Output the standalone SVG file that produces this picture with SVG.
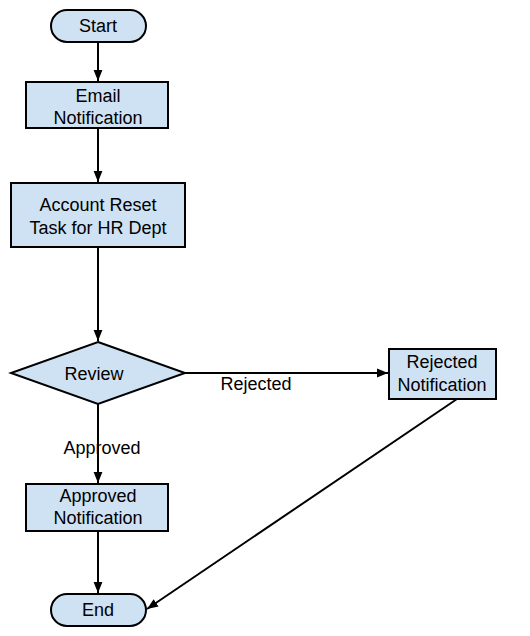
<svg xmlns="http://www.w3.org/2000/svg" width="530" height="636" viewBox="0 0 530 636">
<style>
.n{fill:#cfe2f3;stroke:#000;stroke-width:2}
.t{font-family:"Liberation Sans",Arial,sans-serif;font-size:18px;fill:#000;text-anchor:middle}
.c{stroke:#000;stroke-width:2;fill:none;marker-end:url(#a)}
</style>
<defs>
<marker id="a" viewBox="0 0 10 10" refX="10" refY="5" markerWidth="11" markerHeight="11" markerUnits="userSpaceOnUse" orient="auto">
<path d="M0,1L10,5L0,9z" fill="#000"/>
</marker>
</defs>
<rect width="530" height="636" fill="#fff"/>
<g id="connectors">
<line class="c" x1="98" y1="42" x2="98" y2="81"/>
<line class="c" x1="98" y1="128" x2="98" y2="182"/>
<line class="c" x1="98" y1="247" x2="98" y2="341"/>
<line class="c" x1="98" y1="404" x2="98" y2="483"/>
<line class="c" x1="185" y1="373" x2="388" y2="373"/>
<line class="c" x1="457" y1="399" x2="147" y2="609"/>
<line class="c" x1="98" y1="531" x2="98" y2="593"/>
<text class="t" x="102" y="454">Approved</text>
<text class="t" x="256" y="390">Rejected</text>
</g>
<g id="start"><rect class="n" x="51" y="10" width="95" height="32" rx="16"/><text class="t" x="98" y="32">Start</text></g>
<g id="email"><rect class="n" x="26" y="82" width="142" height="46"/><text class="t" x="98" y="102">Email</text><text class="t" x="98" y="124">Notification</text></g>
<g id="account"><rect class="n" x="11" y="183" width="174" height="64"/><text class="t" x="98" y="211">Account Reset</text><text class="t" x="98" y="234">Task for HR Dept</text></g>
<g id="review"><polygon class="n" points="98,342 185,373 98,404 11,373"/><text class="t" x="94" y="380">Review</text></g>
<g id="rejected"><rect class="n" x="389" y="349" width="107" height="50"/><text class="t" x="442" y="368">Rejected</text><text class="t" x="442" y="391">Notification</text></g>
<g id="approved"><rect class="n" x="26" y="484" width="142" height="47"/><text class="t" x="98" y="502">Approved</text><text class="t" x="98" y="524">Notification</text></g>
<g id="end"><rect class="n" x="51" y="594" width="95" height="32" rx="16"/><text class="t" x="98" y="616">End</text></g>
</svg>
